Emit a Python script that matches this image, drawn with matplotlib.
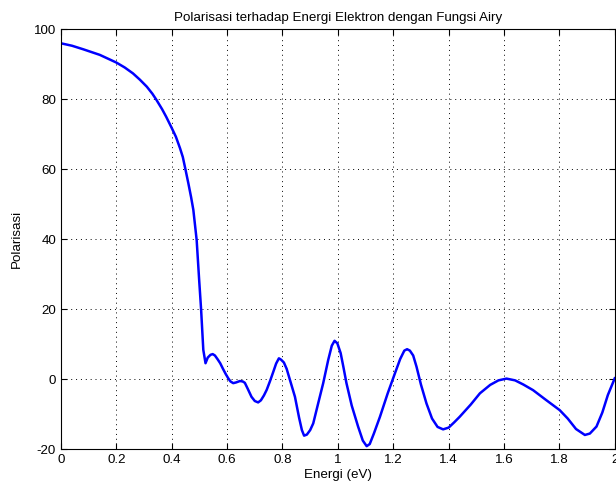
import matplotlib
matplotlib.use('Agg')
import matplotlib.pyplot as plt

# nilai
energi = [0, 0.04, 0.08, 0.14, 0.2, 0.23, 0.26, 0.285, 0.31, 0.33, 0.345, 0.365,
          0.38, 0.40, 0.415, 0.43, 0.44, 0.45, 0.46, 0.47, 0.478, 0.49, 0.499,
          0.506, 0.514, 0.522, 0.53, 0.54, 0.548, 0.556, 0.565, 0.575, 0.585,
          0.595, 0.604, 0.612, 0.622, 0.632, 0.646, 0.656, 0.664, 0.675, 0.688,
          0.70, 0.712, 0.722, 0.733, 0.743, 0.755, 0.767, 0.777, 0.787, 0.795,
          0.805, 0.815, 0.83, 0.845, 0.86, 0.87, 0.878, 0.888, 0.9, 0.911, 0.93,
          0.947, 0.965, 0.978, 0.988, 0.998, 1.01, 1.02, 1.031, 1.05, 1.073,
          1.09, 1.104, 1.115, 1.13, 1.152, 1.18, 1.206, 1.225, 1.24, 1.25, 1.26,
          1.272, 1.284, 1.30, 1.32, 1.34, 1.36, 1.38, 1.40, 1.42, 1.44, 1.48,
          1.513, 1.55, 1.58, 1.609, 1.64, 1.67, 1.705, 1.75, 1.801, 1.83, 1.86,
          1.892, 1.91, 1.934, 1.955, 1.975, 2.0]
polarisasi = [96, 95.3, 94.3, 92.7, 90.5, 89.1, 87.4, 85.6, 83.6, 81.6, 79.8, 77.2,
              75.0, 71.8, 69.3, 66, 63.5, 59.8, 56, 52, 48.4, 39.8, 28.4,
              20, 8.4, 4.6, 6.2, 7.0, 7.2, 6.8, 5.8, 4.6, 3.0,
              1.5, 0.3, -0.6, -1.1, -0.9, -0.5, -0.6, -1.0, -2.8, -5,
              -6.2, -6.6, -6.0, -4.6, -3, -0.5, 2.2, 4.5, 6.0, 5.6,
              4.8, 3.0, -1, -5, -11, -14.5, -16.1, -15.8, -14.5, -12.6, -6.5,
              -1.1, 5.5, 9.6, 11.0, 10.3, 7.5, 3.5, -1.1, -7.5, -13.5,
              -17.5, -19.1, -18.5, -15.5, -10.7, -4.0, 1.7, 5.8, 8.2, 8.6, 8.2,
              6.8, 3.6, -1.5, -6.9, -11.2, -13.6, -14.3, -13.8, -12.3, -10.7, -7.2,
              -4.0, -1.6, -0.3, 0.2, -0.3, -1.5, -3.1, -5.8, -8.8, -11.2, -14.2,
              -15.9, -15.5, -13.5, -9.5, -4.5, 0.3]
xticks = [0, 0.2, 0.4, 0.6, 0.8, 1, 1.2, 1.4, 1.6, 1.8, 2]
xticklabels = ['0', '0.2', '0.4', '0.6', '0.8', '1', '1.2', '1.4', '1.6', '1.8', '2']
yticks = [-20, 0, 20, 40, 60, 80, 100]

plt.rcParams['font.family'] = ['Liberation Sans', 'DejaVu Sans']
plt.rcParams['font.size'] = 9.6
plt.rcParams['axes.unicode_minus'] = False

fig = plt.figure(figsize=(6.16, 4.95), dpi=100)
ax = fig.add_axes([0.099, 0.0923, 0.899, 0.8485])

ax.plot(energi, polarisasi, color='#0000ff', linewidth=1.8)

ax.set_xlim(0, 2)
ax.set_ylim(-20, 100)
ax.set_xticks(xticks)
ax.set_xticklabels(xticklabels)
ax.set_yticks(yticks)
ax.grid(True, color='black', linestyle=(0, (1, 4)), linewidth=0.7)
ax.tick_params(direction='in', top=True, right=True, length=4, labelsize=9.6)
for s in ax.spines.values():
    s.set_linewidth(0.8)

ax.set_title('Polarisasi terhadap Energi Elektron dengan Fungsi Airy', fontsize=9.6, pad=6)
ax.set_xlabel('Energi (eV)', fontsize=9.6, labelpad=2)
ax.set_ylabel('Polarisasi', fontsize=9.6, labelpad=8)

plt.savefig('out.png', dpi=100)
